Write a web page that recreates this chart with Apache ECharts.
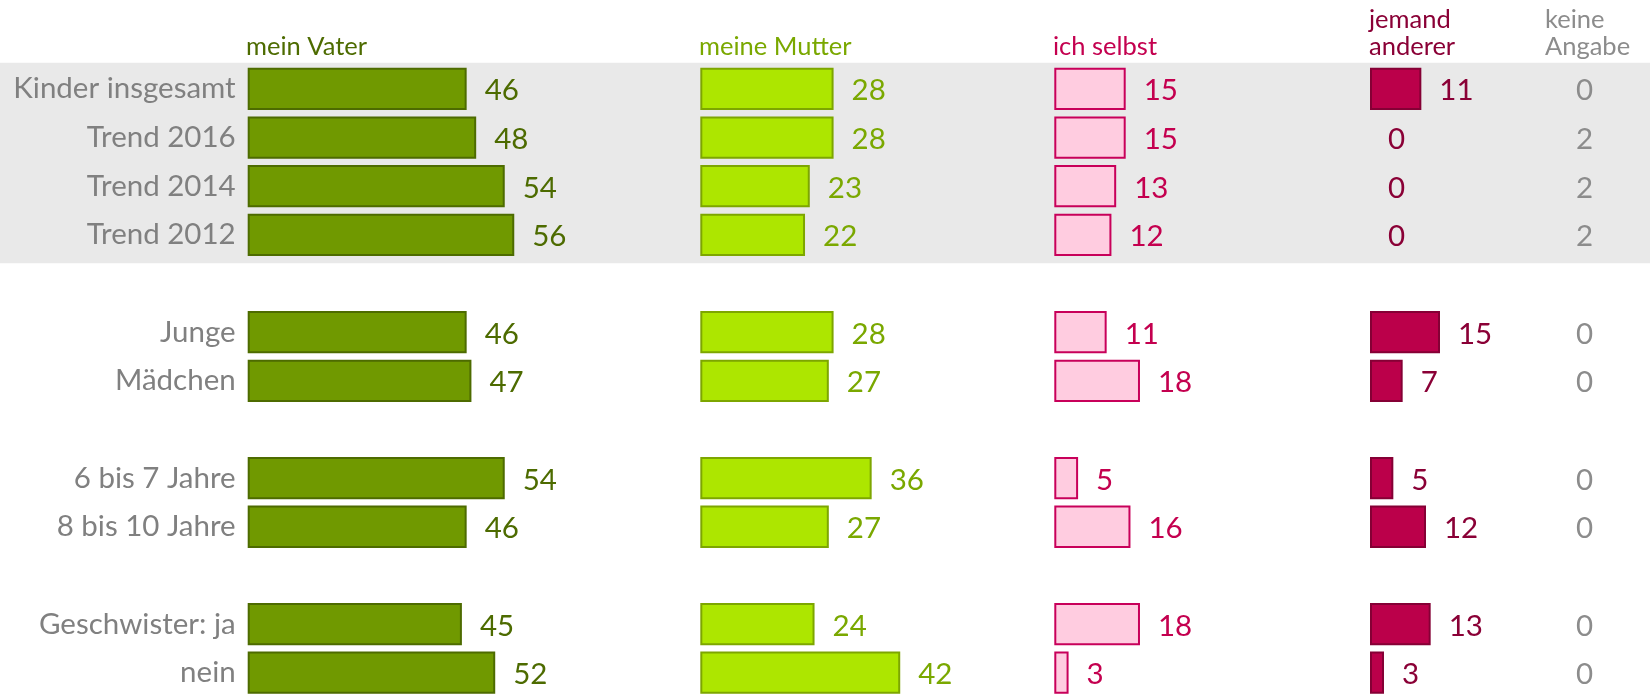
<!DOCTYPE html>
<html>
<head>
<meta charset="utf-8">
<title>Wer hilft bei den Hausaufgaben</title>
<script src="https://cdn.jsdelivr.net/npm/echarts@6/dist/echarts.min.js"></script>
<style>
  html, body { margin: 0; padding: 0; background: #fff; }
  #chart { width: 1650px; height: 697px; }
</style>
</head>
<body>
<div id="chart"></div>
<script>
// Zeilen (leere Einträge = Abstand zwischen den Gruppen)
const rows = ['Kinder insgesamt', 'Trend 2016', 'Trend 2014', 'Trend 2012', '',
  'Junge', 'Mädchen', '', '6 bis 7 Jahre', '8 bis 10 Jahre', '', 'Geschwister: ja', 'nein'];
const bandRows = rows.slice(0, 4);

const meinVater     = [46, 48, 54, 56, null, 46, 47, null, 54, 46, null, 45, 52];
const meineMutter   = [28, 28, 23, 22, null, 28, 27, null, 36, 27, null, 24, 42];
const ichSelbst     = [15, 15, 13, 12, null, 11, 18, null, 5, 16, null, 18, 3];
const jemandAnderer = [11, 0, 0, 0, null, 15, 7, null, 5, 12, null, 13, 3];
const keineAngabe   = [0, 2, 2, 2, null, 0, 0, null, 0, 0, null, 0, 0];

const FONT = 'Lato';
const LABEL_SIZE = 29.5;
const PX_PER_UNIT = 4.76;
const AXIS_MAX = 60;
const GRID_TOP = 64.6;
const GRID_HEIGHT = 638;

const columns = [
  { title: 'mein Vater', data: meinVater, left: 247.7, fill: '#709900', border: '#4d6b00', text: '#4d6b00' },
  { title: 'meine Mutter', data: meineMutter, left: 700.3, fill: '#ade600', border: '#7da600', text: '#7aa800' },
  { title: 'ich selbst', data: ichSelbst, left: 1054.3, fill: '#ffcce0', border: '#c8005a', text: '#c4004f' },
  { title: 'jemand\nanderer', data: jemandAnderer, left: 1370, fill: '#bb004a', border: '#850035', text: '#8a0036' }
];

let chart = echarts.init(document.getElementById('chart'), null, { renderer: 'canvas' });

const grids = [];
const xAxes = [];
const yAxes = [];
const series = [];

const hiddenX = (gridIndex, max) => ({
  type: 'value', gridIndex: gridIndex, min: 0, max: max,
  show: false
});
const catY = (gridIndex, data, showLabel) => ({
  type: 'category', gridIndex: gridIndex, data: data, inverse: true,
  axisLine: { show: false }, axisTick: { show: false },
  splitLine: { show: false },
  axisLabel: showLabel
    ? { show: true, color: '#808080', fontFamily: FONT, fontSize: LABEL_SIZE, margin: 12, padding: [4, 0, 0, 0] }
    : { show: false }
});

columns.forEach((col, i) => {
  grids.push({ left: col.left, top: GRID_TOP, width: AXIS_MAX * PX_PER_UNIT, height: GRID_HEIGHT });
  xAxes.push(hiddenX(i, AXIS_MAX));
  yAxes.push(catY(i, rows, i === 0));
  series.push({
    name: col.title.replace('\n', ' '),
    type: 'bar',
    xAxisIndex: i,
    yAxisIndex: i,
    barWidth: 42.3,
    z: 3,
    itemStyle: { color: col.fill, borderColor: col.border },
    label: {
      show: true, position: 'right', distance: 18, offset: [0, 2],
      color: col.text, fontFamily: FONT, fontSize: LABEL_SIZE
    },
    data: col.data.map(v => v === null ? '-' : { value: v, itemStyle: { borderWidth: v === 0 ? 0 : 2 } })
  });
});

// keine Angabe: nur Werte, keine Balken
grids.push({ left: 1576, top: GRID_TOP, width: 50, height: GRID_HEIGHT });
xAxes.push(hiddenX(4, 10));
yAxes.push(catY(4, rows, false));
series.push({
  name: 'keine Angabe',
  type: 'bar',
  xAxisIndex: 4,
  yAxisIndex: 4,
  barWidth: 42,
  itemStyle: { color: 'rgba(0,0,0,0)' },
  label: {
    show: true, position: 'insideLeft', distance: 0, offset: [0, 2],
    color: '#8c8c8c', fontFamily: FONT, fontSize: LABEL_SIZE
  },
  data: keineAngabe.map(v => v === null ? '-' : v)
});

// grauer Hintergrund hinter den ersten vier Zeilen
grids.push({ left: 0, right: 0, top: 62.7, height: 200.6 });
xAxes.push(hiddenX(5, 1));
yAxes.push({
  type: 'category', gridIndex: 5, data: bandRows, inverse: true,
  axisLine: { show: false }, axisTick: { show: false }, axisLabel: { show: false },
  splitLine: { show: false },
  splitArea: { show: true, areaStyle: { color: ['#e9e9e9'] } }
});

const header = (text, left, top, color) => ({
  text: text, left: left, top: top, padding: 0,
  textStyle: { fontFamily: FONT, fontSize: 25.5, fontWeight: 'normal', color: color, lineHeight: 27 }
});

chart.setOption({
  backgroundColor: '#ffffff',
  animation: false,
  title: [
    header('mein Vater', 246, 33, '#4d6b00'),
    header('meine Mutter', 699, 33, '#7aa800'),
    header('ich selbst', 1053, 33, '#c4004f'),
    header('jemand\nanderer', 1369, 6, '#8a0036'),
    header('keine\nAngabe', 1545, 6, '#8c8c8c')
  ],
  grid: grids,
  xAxis: xAxes,
  yAxis: yAxes,
  series: series
});
</script>
</body>
</html>
